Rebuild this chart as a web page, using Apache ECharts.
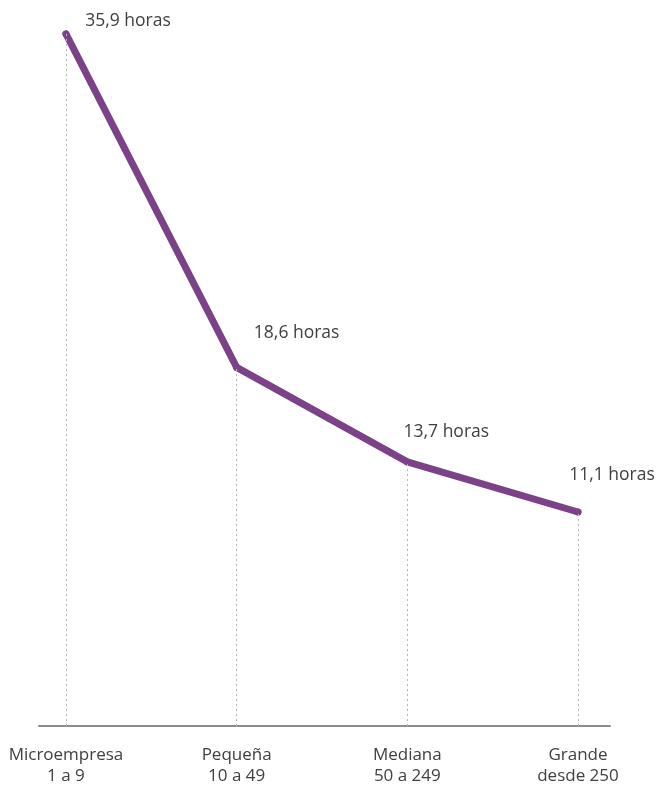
<!DOCTYPE html>
<html>
<head>
<meta charset="utf-8">
<script src="https://cdn.jsdelivr.net/npm/echarts@6/dist/echarts.min.js"></script>
<style>
html,body{margin:0;padding:0;background:#fff;}
#chart{width:657px;height:787px;}
</style>
</head>
<body>
<div id="chart"></div>
<script>
var categories = ['Microempresa\n1 a 9', 'Pequeña\n10 a 49', 'Mediana\n50 a 249', 'Grande\ndesde 250'];
var hours = [35.9, 18.6, 13.7, 11.1];
var labelOffsets = [[62, -13], [60, -34], [39, -30], [34, -37]];

var font = '"Open Sans", sans-serif';
var chart = echarts.init(document.getElementById('chart'));
var seriesData = hours.map(function (v, i) {
  return {
    value: [i, v],
    label: { offset: labelOffsets[i] }
  };
});
var markData = hours.map(function (v, i) {
  return [{ coord: [i, 0] }, { coord: [i, v] }];
});
chart.setOption({
  animation: false,
  grid: { left: 39, right: 47, top: 32, bottom: 60 },
  xAxis: {
    type: 'value',
    min: -0.158,
    max: 3.1875,
    splitLine: { show: false },
    axisLine: { show: true, onZero: false, lineStyle: { color: '#8c8c8c', width: 2 } },
    axisTick: { show: false },
    axisLabel: {
      customValues: [0, 1, 2, 3],
      formatter: function (v) { return categories[Math.round(v)]; },
      color: '#404040',
      fontFamily: font,
      fontSize: 17,
      lineHeight: 21,
      margin: 19,
      align: 'center'
    }
  },
  yAxis: {
    type: 'value',
    min: 0,
    max: 36,
    show: false,
    splitLine: { show: false }
  },
  series: [{
    type: 'line',
    data: seriesData,
    symbol: 'circle',
    symbolSize: 7,
    lineStyle: { color: '#7b4288', width: 7, cap: 'round', join: 'round' },
    itemStyle: { color: '#7b4288' },
    label: {
      show: true,
      position: 'inside',
      formatter: function (p) { return String(p.value[1]).replace('.', ',') + ' horas'; },
      color: '#404040',
      fontFamily: font,
      fontSize: 17.5
    },
    markLine: {
      silent: true,
      symbol: 'none',
      z: 5,
      label: { show: false },
      lineStyle: { color: '#b4b4b4', type: [2, 3], width: 1 },
      data: markData
    }
  }]
});
</script>
</body>
</html>
